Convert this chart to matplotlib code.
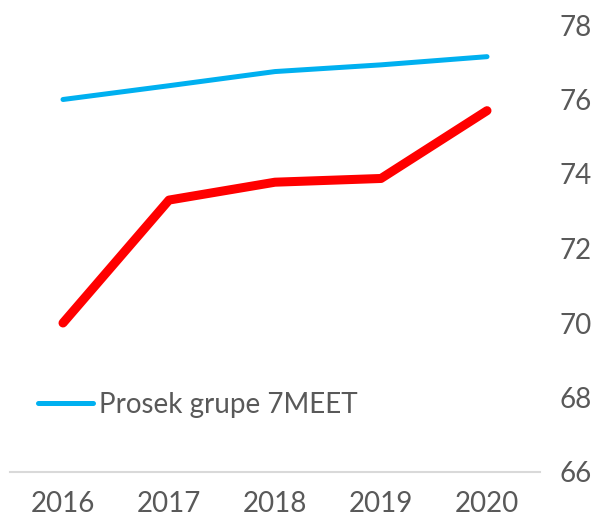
import matplotlib
matplotlib.use("Agg")
import matplotlib.pyplot as plt

# Data
years = ["2016", "2017", "2018", "2019", "2020"]
prosek_7meet = [76.0, 76.37, 76.75, 76.93, 77.15]
country = [70.0, 73.3, 73.78, 73.88, 75.7]
y_ticks = [66, 68, 70, 72, 74, 76, 78]

plt.rcParams["font.family"] = ["Lato", "DejaVu Sans"]

fig = plt.figure(figsize=(6.02, 5.23), dpi=100)
ax = fig.add_axes([10 / 602, 1 - 472 / 523, 530 / 602, 447 / 523])

x = range(len(years))
ax.plot(x, prosek_7meet, color="#00B0F0", linewidth=3.6,
        solid_capstyle="round", label="Prosek grupe 7MEET")
ax.plot(x, country, color="#FF0000", linewidth=6.5,
        solid_capstyle="round", solid_joinstyle="round", label="_nolegend_")

ax.set_xlim(-0.5, 4.5)
ax.set_ylim(66, 78)
ax.set_xticks(list(x))
ax.set_xticklabels(years)
ax.set_yticks(y_ticks)
ax.yaxis.tick_right()

for side in ["top", "left", "right"]:
    ax.spines[side].set_visible(False)
ax.spines["bottom"].set_color("#D9D9D9")
ax.spines["bottom"].set_linewidth(1.5)

ax.tick_params(axis="both", length=0, labelsize=20, labelcolor="#595959")
ax.tick_params(axis="x", pad=14)
ax.tick_params(axis="y", pad=14)

leg = ax.legend(loc="lower left", bbox_to_anchor=(0.005, 0.065), frameon=False,
                fontsize=20, handlelength=2.0, handletextpad=0.2,
                labelcolor="#595959")

fig.savefig("out.png", dpi=100)
